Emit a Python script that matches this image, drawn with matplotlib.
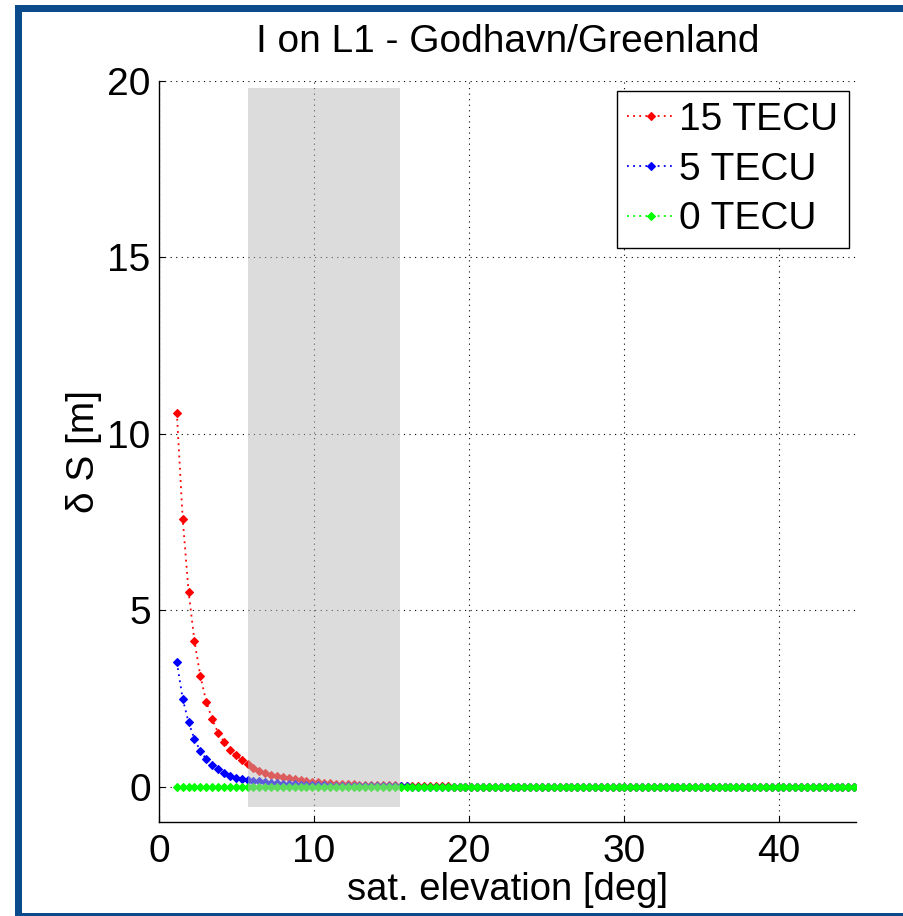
import matplotlib
matplotlib.use("Agg")
import matplotlib.pyplot as plt
from matplotlib.patches import Rectangle

plt.rcParams['font.family'] = ['Liberation Sans', 'DejaVu Sans']

# ---------------- data ----------------
elevation = [
    1.15, 1.53, 1.91, 2.29, 2.67, 3.05, 3.43, 3.81, 4.19, 4.57, 4.95, 5.33, 5.71, 6.09, 6.47, 6.85,
    7.23, 7.61, 7.99, 8.37, 8.75, 9.13, 9.51, 9.89, 10.27, 10.65, 11.03, 11.41, 11.79, 12.17, 12.55, 12.93,
    13.31, 13.69, 14.07, 14.45, 14.83, 15.21, 15.59, 15.97, 16.35, 16.73, 17.11, 17.49, 17.87, 18.25, 18.63, 19.01,
    19.39, 19.77, 20.15, 20.53, 20.91, 21.29, 21.67, 22.05, 22.43, 22.81, 23.19, 23.57, 23.95, 24.33, 24.71, 25.09,
    25.47, 25.85, 26.23, 26.61, 26.99, 27.37, 27.75, 28.13, 28.51, 28.89, 29.27, 29.65, 30.03, 30.41, 30.79, 31.17,
    31.55, 31.93, 32.31, 32.69, 33.07, 33.45, 33.83, 34.21, 34.59, 34.97, 35.35, 35.73, 36.11, 36.49, 36.87, 37.25,
    37.63, 38.01, 38.39, 38.77, 39.15, 39.53, 39.91, 40.29, 40.67, 41.05, 41.43, 41.81, 42.19, 42.57, 42.95, 43.33,
    43.71, 44.09, 44.47, 44.85,
]

tecu15 = [
    10.60, 7.59, 5.52, 4.12, 3.13, 2.41, 1.92, 1.53, 1.28, 1.04, 0.90, 0.76, 0.63, 0.52, 0.45, 0.39,
    0.34, 0.31, 0.28, 0.24, 0.21, 0.19, 0.16, 0.14, 0.12, 0.11, 0.10, 0.09, 0.08, 0.07, 0.065, 0.06,
    0.055, 0.05, 0.045, 0.04, 0.04, 0.035, 0.03, 0.03, 0.03, 0.025, 0.025, 0.02, 0.015, 0.01, 0.01, 0.005,
    0.005, 0.0, 0.0, 0.0, 0.0, 0.0, 0.0, 0.0, 0.0, 0.0, 0.0, 0.0, 0.0, 0.0, 0.0, 0.0,
    0.0, 0.0, 0.0, 0.0, 0.0, 0.0, 0.0, 0.0, 0.0, 0.0, 0.0, 0.0, 0.0, 0.0, 0.0, 0.0,
    0.0, 0.0, 0.0, 0.0, 0.0, 0.0, 0.0, 0.0, 0.0, 0.0, 0.0, 0.0, 0.0, 0.0, 0.0, 0.0,
    0.0, 0.0, 0.0, 0.0, 0.0, 0.0, 0.0, 0.0, 0.0, 0.0, 0.0, 0.0, 0.0, 0.0, 0.0, 0.0,
    0.0, 0.0, 0.0, 0.0,
]

tecu5 = [
    3.53, 2.49, 1.82, 1.35, 1.01, 0.78, 0.61, 0.49, 0.38, 0.30, 0.26, 0.21, 0.19, 0.17, 0.15, 0.13,
    0.11, 0.10, 0.09, 0.08, 0.07, 0.06, 0.055, 0.047, 0.04, 0.037, 0.033, 0.03, 0.027, 0.023, 0.022, 0.02,
    0.018, 0.017, 0.015, 0.013, 0.013, 0.012, 0.01, 0.008, 0.005, 0.003, 0.0, 0.0, 0.0, 0.0, 0.0, 0.0,
    0.0, 0.0, 0.0, 0.0, 0.0, 0.0, 0.0, 0.0, 0.0, 0.0, 0.0, 0.0, 0.0, 0.0, 0.0, 0.0,
    0.0, 0.0, 0.0, 0.0, 0.0, 0.0, 0.0, 0.0, 0.0, 0.0, 0.0, 0.0, 0.0, 0.0, 0.0, 0.0,
    0.0, 0.0, 0.0, 0.0, 0.0, 0.0, 0.0, 0.0, 0.0, 0.0, 0.0, 0.0, 0.0, 0.0, 0.0, 0.0,
    0.0, 0.0, 0.0, 0.0, 0.0, 0.0, 0.0, 0.0, 0.0, 0.0, 0.0, 0.0, 0.0, 0.0, 0.0, 0.0,
    0.0, 0.0, 0.0, 0.0,
]

tecu0 = [
    0.0, 0.0, 0.0, 0.0, 0.0, 0.0, 0.0, 0.0, 0.0, 0.0, 0.0, 0.0, 0.0, 0.0, 0.0, 0.0,
    0.0, 0.0, 0.0, 0.0, 0.0, 0.0, 0.0, 0.0, 0.0, 0.0, 0.0, 0.0, 0.0, 0.0, 0.0, 0.0,
    0.0, 0.0, 0.0, 0.0, 0.0, 0.0, 0.0, 0.0, 0.0, 0.0, 0.0, 0.0, 0.0, 0.0, 0.0, 0.0,
    0.0, 0.0, 0.0, 0.0, 0.0, 0.0, 0.0, 0.0, 0.0, 0.0, 0.0, 0.0, 0.0, 0.0, 0.0, 0.0,
    0.0, 0.0, 0.0, 0.0, 0.0, 0.0, 0.0, 0.0, 0.0, 0.0, 0.0, 0.0, 0.0, 0.0, 0.0, 0.0,
    0.0, 0.0, 0.0, 0.0, 0.0, 0.0, 0.0, 0.0, 0.0, 0.0, 0.0, 0.0, 0.0, 0.0, 0.0, 0.0,
    0.0, 0.0, 0.0, 0.0, 0.0, 0.0, 0.0, 0.0, 0.0, 0.0, 0.0, 0.0, 0.0, 0.0, 0.0, 0.0,
    0.0, 0.0, 0.0, 0.0,
]

series_labels = ['15 TECU', '5 TECU', '0 TECU']
series_colors = ['#ff0000', '#0000ff', '#00ff00']
shade_x = [5.75, 15.55]
shade_y = [-0.57, 19.8]
x_ticks = [0, 10, 20, 30, 40]
y_ticks = [0, 5, 10, 15, 20]

title_text = 'I on L1 - Godhavn/Greenland'
x_label = 'sat. elevation [deg]'
y_label = '\u03b4 S [m]'

# ---------------- figure ----------------
W, H = 904, 916
fig = plt.figure(figsize=(W / 100, H / 100), dpi=100, facecolor='white')

# blue window frame
frame_col = '#0b4a8b'
fig.patches.append(Rectangle((15 / W, 0), 7 / W, (H - 5) / H, transform=fig.transFigure,
                             facecolor=frame_col, edgecolor='none', zorder=0))
fig.patches.append(Rectangle((15 / W, (H - 12) / H), (W - 15) / W, 7 / H, transform=fig.transFigure,
                             facecolor=frame_col, edgecolor='none', zorder=0))
fig.patches.append(Rectangle((15 / W, 0), (W - 15) / W, 3 / H, transform=fig.transFigure,
                             facecolor=frame_col, edgecolor='none', zorder=0))

ax = fig.add_axes([159 / W, 1 - 822 / H, (856.5 - 159) / W, (822 - 81) / H])
ax.set_facecolor('none')

dotted = (0, (1, 2.4))
for vals, lab, col in zip([tecu15, tecu5, tecu0], series_labels, series_colors):
    ax.plot(elevation, vals, linestyle=dotted, linewidth=1.3, color=col,
            marker='D', markersize=4.4, markeredgewidth=0.8, label=lab, zorder=3)

ax.add_patch(Rectangle((shade_x[0], shade_y[0]), shade_x[1] - shade_x[0], shade_y[1] - shade_y[0],
                       facecolor='#bbbbbb', alpha=0.5, edgecolor='none', zorder=4))

ax.set_xlim(0, 45)
ax.set_ylim(-1, 20)
ax.set_xticks(x_ticks)
ax.set_yticks(y_ticks)
ax.grid(True, linestyle=(0, (1, 4)), color='black', linewidth=0.8)
ax.set_axisbelow(True)

for s in ['top', 'right']:
    ax.spines[s].set_visible(False)
for s in ['left', 'bottom']:
    ax.spines[s].set_linewidth(1.0)

ax.tick_params(direction='in', length=4, width=0.8, labelsize=28, colors='black')
ax.tick_params(axis='y', pad=6)
ax.tick_params(axis='x', pad=9)

ax.set_title(title_text, fontsize=28, pad=21)
ax.set_xlabel(x_label, fontsize=27.5, labelpad=1)
ax.set_ylabel(y_label, fontsize=28, labelpad=4)

leg = ax.legend(loc='upper right', bbox_to_anchor=(0.989, 0.9865), borderaxespad=0,
                fontsize=28, frameon=True, fancybox=False, framealpha=1,
                edgecolor='black', handlelength=1.2, handletextpad=0.12,
                labelspacing=0.35, borderpad=0.28, markerscale=1.0)
leg.get_frame().set_linewidth(1.0)

fig.savefig('out.png', dpi=100, facecolor='white')
